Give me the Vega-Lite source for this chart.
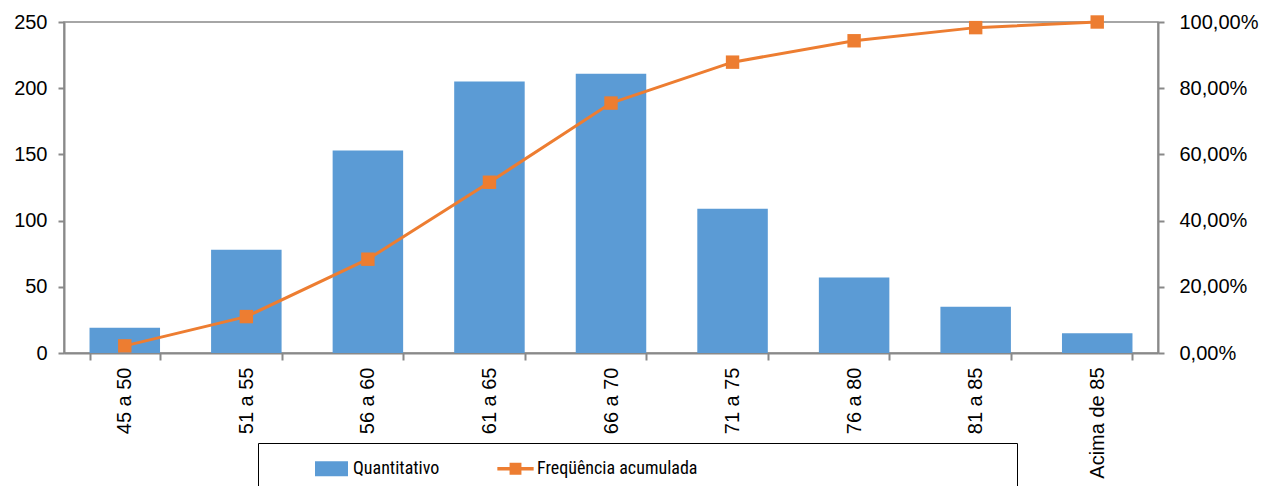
{
  "$schema": "https://vega.github.io/schema/vega-lite/v6.json",
  "width": 1094,
  "height": 331,
  "autosize": {"type": "none"},
  "padding": {"left": 64, "top": 22, "right": 107, "bottom": 133},
  "background": "white",
  "config": {
    "view": {"stroke": "#898989", "strokeWidth": 1.5},
    "font": "Liberation Sans",
    "axis": {
      "labelFont": "Liberation Sans",
      "labelFontSize": 20,
      "labelColor": "black",
      "domainColor": "#898989",
      "domainWidth": 2,
      "tickColor": "#898989",
      "tickWidth": 2,
      "grid": false,
      "title": null
    }
  },
  "data": {
    "values": [
      {"faixa": "45 a 50", "quantitativo": 19, "acumulada": 0.0215},
      {"faixa": "51 a 55", "quantitativo": 78, "acumulada": 0.110},
      {"faixa": "56 a 60", "quantitativo": 153, "acumulada": 0.2834},
      {"faixa": "61 a 65", "quantitativo": 205, "acumulada": 0.5159},
      {"faixa": "66 a 70", "quantitativo": 211, "acumulada": 0.7551},
      {"faixa": "71 a 75", "quantitativo": 109, "acumulada": 0.8787},
      {"faixa": "76 a 80", "quantitativo": 57, "acumulada": 0.9433},
      {"faixa": "81 a 85", "quantitativo": 35, "acumulada": 0.983},
      {"faixa": "Acima de 85", "quantitativo": 15, "acumulada": 1.0}
    ]
  },
  "layer": [
    {
      "mark": {"type": "bar"},
      "encoding": {
        "x": {
          "field": "faixa",
          "type": "nominal",
          "sort": null,
          "scale": {"paddingInner": 0.42, "paddingOuter": 0.21},
          "axis": {
            "labelAngle": -90,
            "tickBand": "extent",
            "tickSize": 7,
            "labelPadding": 7,
            "labelLimit": 300
          }
        },
        "y": {
          "field": "quantitativo",
          "type": "quantitative",
          "scale": {"domain": [0, 250]},
          "axis": {
            "values": [0, 50, 100, 150, 200, 250],
            "tickSize": 6,
            "labelPadding": 11
          }
        },
        "color": {
          "datum": "Quantitativo",
          "scale": {
            "domain": ["Quantitativo", "Freqüência acumulada"],
            "range": ["#5B9BD5", "#ED7D31"]
          },
          "legend": {
            "orient": "none",
            "legendX": 194,
            "legendY": 421,
            "direction": "horizontal",
            "title": "\u00a0",
            "titleOrient": "right",
            "titlePadding": 311,
            "titleFontSize": 20,
            "padding": 9,
            "strokeColor": "black",
            "fillColor": "white",
            "symbolSize": 1089,
            "symbolOffset": 48,
            "labelOffset": 5,
            "columnPadding": 11,
            "labelFont": "Liberation Sans Narrow, Roboto Condensed, Liberation Sans",
            "labelFontSize": 18,
            "labelColor": "black",
            "labelLimit": 400,
            "symbolStrokeWidth": 0,
            "encode": {
              "symbols": {
                "update": {
                  "shape": {"signal": "datum.value === 'Quantitativo' ? 'M-1,-0.45L1,-0.45L1,0.45L-1,0.45Z' : 'M-1.1,-0.1L-0.36,-0.1L-0.36,-0.36L0.36,-0.36L0.36,-0.1L1.1,-0.1L1.1,0.1L0.36,0.1L0.36,0.36L-0.36,0.36L-0.36,0.1L-1.1,0.1Z'"},
                  "fill": {"signal": "datum.value === 'Quantitativo' ? '#5B9BD5' : '#ED7D31'"},
                  "stroke": {"value": "transparent"},
                  "opacity": {"value": 1}
                }
              }
            }
          }
        }
      }
    },
    {
      "mark": {
        "type": "line",
        "strokeWidth": 3,
        "point": {"filled": true, "shape": "square", "size": 180, "opacity": 1}
      },
      "encoding": {
        "x": {"field": "faixa", "type": "nominal", "sort": null},
        "y": {
          "field": "acumulada",
          "type": "quantitative",
          "scale": {"domain": [0, 1]},
          "axis": {
            "orient": "right",
            "values": [0, 0.2, 0.4, 0.6, 0.8, 1.0],
            "labelExpr": "replace(format(datum.value, '.2%'), '.', ',')",
            "tickSize": 6,
            "labelPadding": 15
          }
        },
        "color": {"datum": "Freqüência acumulada"}
      }
    }
  ],
  "resolve": {"scale": {"y": "independent"}}
}
